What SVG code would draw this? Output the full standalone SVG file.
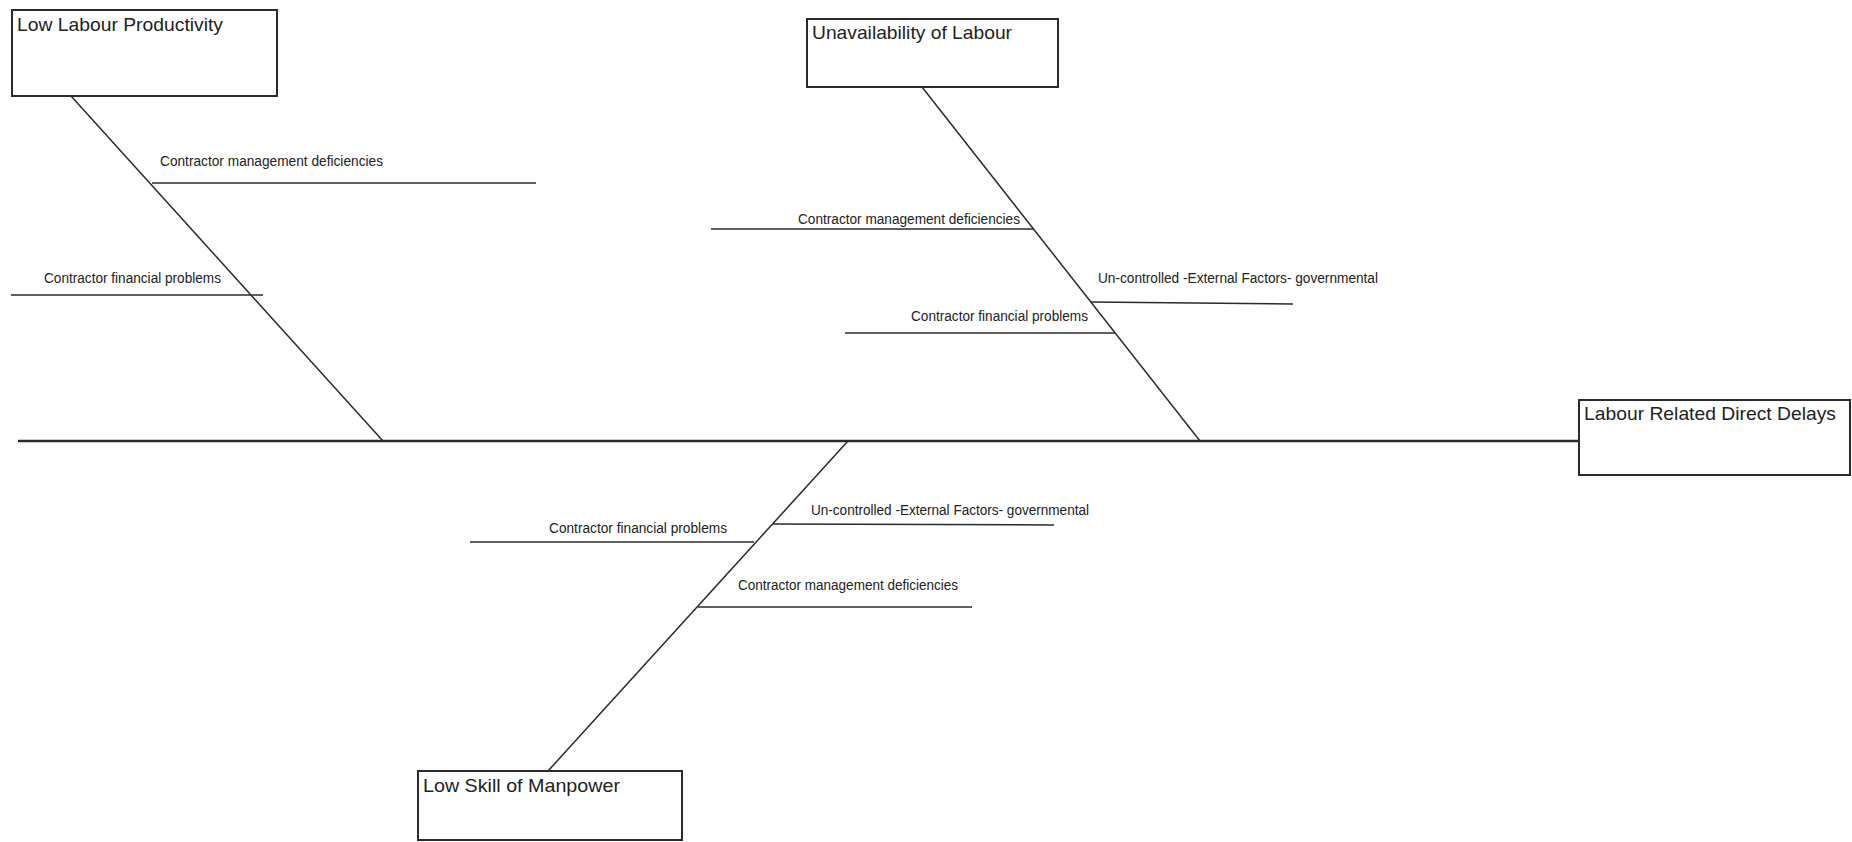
<svg xmlns="http://www.w3.org/2000/svg" width="1852" height="842" viewBox="0 0 1852 842">
  <style>
    .box { fill: #ffffff; stroke: #2b2b2b; stroke-width: 2; }
    .ttl { font-family: "Liberation Sans", Arial, sans-serif; font-size: 19px; fill: #222222; }
    .lbl { font-family: "Liberation Sans", Arial, sans-serif; font-size: 14px; fill: #222222; }
    .bone { stroke: #2b2b2b; stroke-width: 1.5; fill: none; stroke-linecap: butt; }
    .spine { stroke: #2b2b2b; stroke-width: 2.5; fill: none; }
  </style>
  <rect width="1852" height="842" fill="#ffffff"/>

  <!-- spine and category bones -->
  <g id="connectors">
    <line class="spine" x1="18" y1="441" x2="1579" y2="441"/>
    <line class="bone" x1="71" y1="96" x2="383" y2="441"/>
    <line class="bone" x1="922" y1="87" x2="1200" y2="441"/>
    <line class="bone" x1="848" y1="441" x2="548" y2="771"/>
  </g>

  <!-- effect -->
  <g id="effect-labour-related-direct-delays">
    <rect class="box" x="1579" y="400" width="271" height="75"/>
    <text class="ttl" x="1584" y="420" textLength="252" lengthAdjust="spacingAndGlyphs">Labour Related Direct Delays</text>
  </g>

  <!-- categories -->
  <g id="cat-low-labour-productivity">
    <rect class="box" x="12" y="10" width="265" height="86"/>
    <text class="ttl" x="17" y="31" textLength="206" lengthAdjust="spacingAndGlyphs">Low Labour Productivity</text>
  </g>
  <g id="cat-unavailability-of-labour">
    <rect class="box" x="807" y="19" width="251" height="68"/>
    <text class="ttl" x="812" y="39" textLength="200" lengthAdjust="spacingAndGlyphs">Unavailability of Labour</text>
  </g>
  <g id="cat-low-skill-of-manpower">
    <rect class="box" x="418" y="771" width="264" height="69"/>
    <text class="ttl" x="423" y="792" textLength="197" lengthAdjust="spacingAndGlyphs">Low Skill of Manpower</text>
  </g>

  <!-- causes: Low Labour Productivity -->
  <g id="llp-management">
    <line class="bone" x1="152" y1="183" x2="536" y2="183"/>
    <text class="lbl" x="160" y="166" textLength="223" lengthAdjust="spacingAndGlyphs">Contractor management deficiencies</text>
  </g>
  <g id="llp-financial">
    <line class="bone" x1="11" y1="295" x2="263" y2="295"/>
    <text class="lbl" x="44" y="283" textLength="177" lengthAdjust="spacingAndGlyphs">Contractor financial problems</text>
  </g>

  <!-- causes: Unavailability of Labour -->
  <g id="ul-management">
    <line class="bone" x1="711" y1="229" x2="1034" y2="229"/>
    <text class="lbl" x="798" y="224" textLength="222" lengthAdjust="spacingAndGlyphs">Contractor management deficiencies</text>
  </g>
  <g id="ul-external">
    <line class="bone" x1="1091" y1="302" x2="1293" y2="304"/>
    <text class="lbl" x="1098" y="283" textLength="280" lengthAdjust="spacingAndGlyphs">Un-controlled -External Factors- governmental</text>
  </g>
  <g id="ul-financial">
    <line class="bone" x1="845" y1="333" x2="1115" y2="333"/>
    <text class="lbl" x="911" y="321" textLength="177" lengthAdjust="spacingAndGlyphs">Contractor financial problems</text>
  </g>

  <!-- causes: Low Skill of Manpower -->
  <g id="lsm-financial">
    <line class="bone" x1="470" y1="542" x2="754" y2="542"/>
    <text class="lbl" x="549" y="533" textLength="178" lengthAdjust="spacingAndGlyphs">Contractor financial problems</text>
  </g>
  <g id="lsm-external">
    <line class="bone" x1="773" y1="524" x2="1054" y2="525"/>
    <text class="lbl" x="811" y="515" textLength="278" lengthAdjust="spacingAndGlyphs">Un-controlled -External Factors- governmental</text>
  </g>
  <g id="lsm-management">
    <line class="bone" x1="698" y1="607" x2="972" y2="607"/>
    <text class="lbl" x="738" y="590" textLength="220" lengthAdjust="spacingAndGlyphs">Contractor management deficiencies</text>
  </g>
</svg>
